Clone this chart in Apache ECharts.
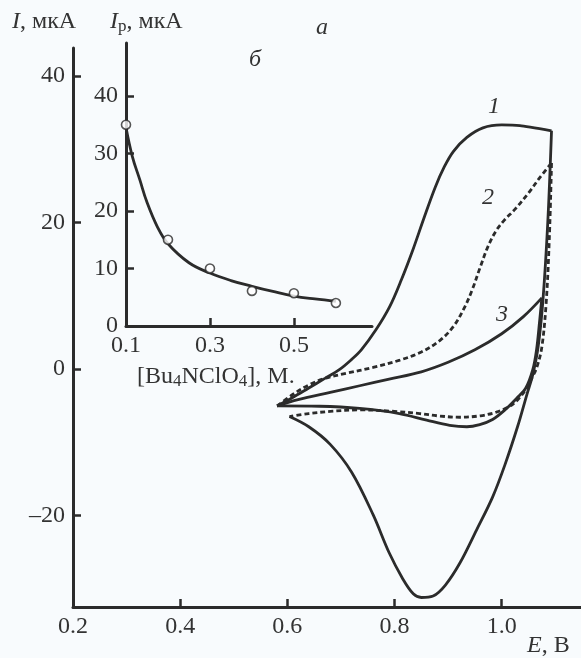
<!DOCTYPE html>
<html>
<head>
<meta charset="utf-8">
<title>CV</title>
<script src="https://cdn.jsdelivr.net/npm/echarts@6.0.0/dist/echarts.min.js"></script>
<style>
    html,body{margin:0;padding:0;background:#f8fbfd;}
    #chart{width:581px;height:658px;}
</style>
</head>
<body>
<div id="chart"></div>
<script>
//основной график: E, В / I, мкА
var xTicks = [0.2, 0.4, 0.6, 0.8, 1.0];
var yTicks = [-20, 0, 20, 40];
//кривая 1
var curve1Forward = [[0.581,-5.05],[0.61,-3.9],[0.64,-2.6],[0.67,-1.3],[0.697,-0.1],[0.72,1.3],[0.738,2.6],[0.765,5.3],[0.791,8.5],[0.813,12.2],[0.834,16.2],[0.855,20.6],[0.876,24.8],[0.893,27.6],[0.91,29.7],[0.935,31.6],[0.965,32.9],[1.0,33.3],[1.034,33.2],[1.093,32.5]];
var curve1Reverse = [[1.093,32.5],[1.086,20],[1.077,9.4],[1.068,3],[1.058,-0.8],[1.047,-3.5],[1.03,-7.8],[1.006,-13.1],[0.983,-17.5],[0.953,-22],[0.922,-26.5],[0.895,-29.5],[0.872,-31.0],[0.85,-31.2],[0.835,-30.7],[0.815,-28.6],[0.79,-25.1],[0.76,-19.9],[0.72,-14.1],[0.68,-10.3],[0.64,-7.9],[0.604,-6.5]];
//кривая 2 (пунктир)
var curve2Forward = [[0.581,-5.05],[0.61,-3.5],[0.64,-2.2],[0.67,-1.3],[0.71,-0.6],[0.76,0.2],[0.81,1.2],[0.85,2.3],[0.885,3.9],[0.91,5.8],[0.93,8.3],[0.945,10.8],[0.96,13.9],[0.975,16.8],[0.99,18.9],[1.005,20.3],[1.025,21.8],[1.05,24.0],[1.07,26.0],[1.093,28.1]];
var curve2Reverse = [[1.093,28.1],[1.089,18],[1.083,9],[1.075,3],[1.066,0.3],[1.058,-1.0],[1.045,-2.8],[1.03,-4.2],[1.015,-5.1],[0.99,-5.9],[0.96,-6.4],[0.921,-6.6],[0.88,-6.4],[0.847,-6.1],[0.80,-5.8],[0.735,-5.6],[0.68,-5.8],[0.64,-6.1],[0.604,-6.5]];
//кривая 3
var curve3Forward = [[0.581,-5.05],[0.62,-4.2],[0.68,-3.2],[0.735,-2.3],[0.79,-1.4],[0.85,-0.4],[0.9,0.9],[0.95,2.6],[1.0,4.8],[1.04,7.1],[1.075,9.7]];
var curve3Reverse = [[1.075,9.7],[1.071,6.7],[1.065,2.6],[1.058,-0.1],[1.045,-2.6],[1.028,-4.0],[1.006,-5.6],[0.983,-6.9],[0.959,-7.6],[0.935,-7.9],[0.903,-7.7],[0.86,-7.0],[0.809,-6.1],[0.735,-5.4],[0.66,-5.1],[0.581,-5.05]];

//вставка б: Ip от [Bu4NClO4]
var insetXTicks = [0.1, 0.3, 0.5];
var insetYTicks = [0, 10, 20, 30, 40];
var conc = [0.1, 0.2, 0.3, 0.4, 0.5, 0.6];
var ipMeasured = [35, 15, 10, 6.1, 5.7, 4];
var fitConc = [0.1, 0.115, 0.133, 0.15, 0.175, 0.2, 0.25, 0.3, 0.35, 0.4, 0.45, 0.5, 0.55, 0.6];
var fitIp = [34.5, 29.5, 25.4, 21.5, 17.2, 14.3, 11.0, 9.2, 7.9, 6.9, 6.0, 5.2, 4.7, 4.3];

(function drawMap(){
    var ink = '#2b2b2b';
    var font = 'Liberation Serif';

    function axisX(grid, min, max, labels, ticks){
        return {
            type: 'value', gridIndex: grid, min: min, max: max,
            splitLine: {show: false},
            axisLine: {onZero: false, lineStyle: {color: ink, width: 3}},
            axisTick: {inside: true, length: 8, customValues: ticks, lineStyle: {color: ink, width: 2.5}},
            axisLabel: {customValues: labels, margin: 8, color: '#333', fontSize: 24, fontFamily: font,
                formatter: function(v){ return v.toFixed(1); }}
        };
    }
    function axisY(grid, min, max, labels){
        return {
            type: 'value', gridIndex: grid, min: min, max: max,
            splitLine: {show: false},
            axisLine: {onZero: false, lineStyle: {color: ink, width: 3}},
            axisTick: {inside: true, length: 8, customValues: labels, lineStyle: {color: ink, width: 2.5}},
            axisLabel: {customValues: labels, margin: 8, color: '#333', fontSize: 24, fontFamily: font,
                formatter: function(v){ return String(v).replace('-', '\u2013'); }}
        };
    }
    function curve(data, dashed){
        return {
            type: 'line', xAxisIndex: 0, yAxisIndex: 0, data: data,
            showSymbol: false, smooth: 0.35, silent: true,
            lineStyle: {color: ink, width: 2.8, type: dashed ? [5, 3] : 'solid'}
        };
    }
    function label(x, y, text, extra){
        var st = {text: text, x: 0, y: 0, fill: '#333', fontSize: 24, fontFamily: font,
            align: 'left', verticalAlign: 'middle'};
        for (var k in extra) st[k] = extra[k];
        return {type: 'text', x: x, y: y, style: st, z: 10};
    }

    var myChart = echarts.init(document.getElementById('chart'));
    var fitData = fitConc.map(function(c, i){ return [c, fitIp[i]]; });
    var pointData = conc.map(function(c, i){ return [c, ipMeasured[i]]; });

    var option = {
        animation: false,
        backgroundColor: '#f8fbfd',
        grid: [
            {left: 73, top: 48, width: 508, height: 559},
            {left: 126, top: 43, width: 246, height: 283}
        ],
        xAxis: [
            axisX(0, 0.2, 1.148, xTicks, xTicks),
            axisX(1, 0.1, 0.686, insetXTicks, [0.3, 0.5])
        ],
        yAxis: [
            axisY(0, -32.5, 43.8, yTicks),
            axisY(1, 0, 49.2, insetYTicks)
        ],
        series: [
            curve(curve1Forward), curve(curve1Reverse),
            curve(curve2Forward, true), curve(curve2Reverse, true),
            curve(curve3Forward), curve(curve3Reverse),
            {
                type: 'line', xAxisIndex: 1, yAxisIndex: 1, data: fitData,
                showSymbol: false, smooth: 0.4, silent: true,
                lineStyle: {color: ink, width: 2.8}
            },
            {
                type: 'scatter', xAxisIndex: 1, yAxisIndex: 1, data: pointData,
                symbol: 'circle', symbolSize: 9, silent: true, z: 5,
                itemStyle: {color: '#fff', borderColor: ink, borderWidth: 1.6}
            }
        ],
        graphic: [
            label(12, 22, '{i|I}, мкА', {rich: {i: {fontStyle: 'italic', fontSize: 24, fontFamily: font}}}),
            label(110, 22, '{i|I}{s|р}, мкА', {rich: {
                i: {fontStyle: 'italic', fontSize: 24, fontFamily: font},
                s: {fontSize: 17, fontFamily: font, padding: [10, 0, 0, 0]}
            }}),
            label(316, 28, 'а', {fontStyle: 'italic'}),
            label(249, 60, 'б', {fontStyle: 'italic'}),
            label(488, 107, '1', {fontStyle: 'italic'}),
            label(482, 198, '2', {fontStyle: 'italic'}),
            label(496, 315, '3', {fontStyle: 'italic'}),
            label(527, 646, '{i|E}, В', {rich: {i: {fontStyle: 'italic', fontSize: 24, fontFamily: font}}}),
            label(137, 377, '[Bu{s|4}NClO{s|4}], M.', {rich: {
                s: {fontSize: 17, fontFamily: font, padding: [10, 0, 0, 0]}
            }})
        ]
    };
    myChart.setOption(option);
})();
</script>
</body>
</html>
